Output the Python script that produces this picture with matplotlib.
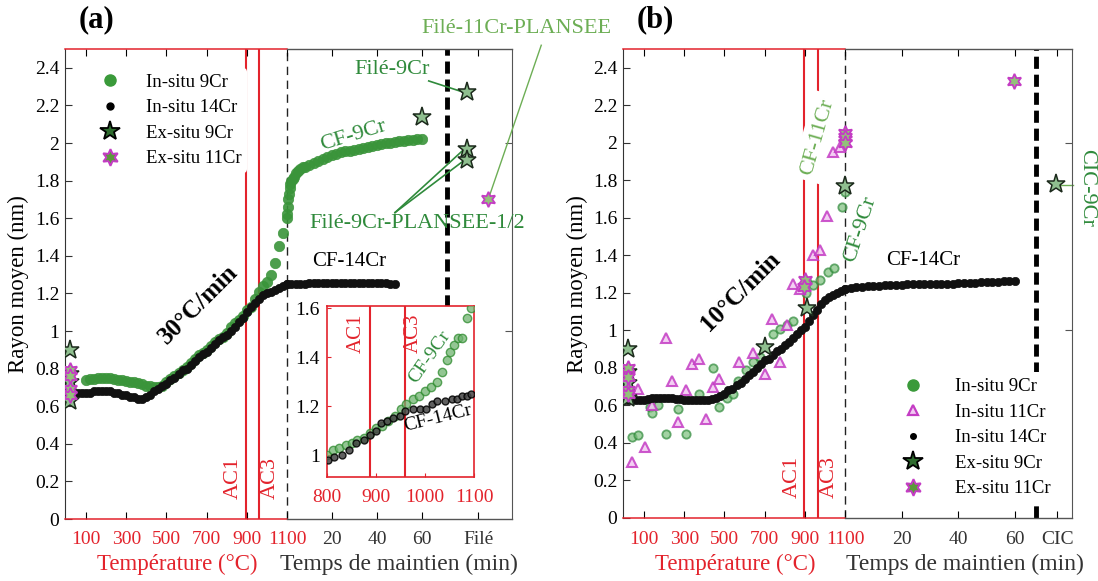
import numpy as np
import matplotlib.pyplot as plt
from matplotlib.lines import Line2D

plt.rcParams['font.family'] = ['Liberation Serif', 'DejaVu Serif']

RED = '#e3232c'
GREEN = '#2f8a3b'
LGREEN = '#6dae55'
MAG = '#c43cc4'
DARK = '#333333'

# ---------------- (a) 30 C/min ----------------
temp_14_a = np.arange(0, 1101, 20)
r14_temp_a = [0.67, 0.67, 0.67, 0.67, 0.67, 0.67, 0.67, 0.68, 0.68, 0.68,
              0.68, 0.68, 0.67, 0.67, 0.66, 0.66, 0.65, 0.65, 0.64, 0.64,
              0.65, 0.66, 0.68, 0.69, 0.71, 0.72, 0.74, 0.75, 0.77, 0.79,
              0.80, 0.82, 0.84, 0.86, 0.88, 0.89, 0.91, 0.93, 0.95, 0.97,
              0.98, 1.00, 1.02, 1.05, 1.07, 1.10, 1.13, 1.15, 1.17, 1.19,
              1.20, 1.21, 1.22, 1.23, 1.24, 1.25]
time_14_a = np.arange(0, 49, 2)
r14_time_a = [1.25, 1.25, 1.25, 1.25, 1.25, 1.255, 1.255, 1.255, 1.255, 1.255,
              1.255, 1.255, 1.255, 1.255, 1.255, 1.255, 1.255, 1.255, 1.255, 1.255,
              1.255, 1.255, 1.255, 1.25, 1.25]

temp_9_a = np.arange(100, 1101, 20)
r9_temp_a = [0.74, 0.745, 0.745, 0.75, 0.75, 0.75, 0.75, 0.745, 0.74, 0.74,
             0.735, 0.73, 0.73, 0.725, 0.72, 0.71, 0.705, 0.70, 0.70, 0.71,
             0.73, 0.745, 0.76, 0.775, 0.79, 0.81, 0.83, 0.85, 0.87, 0.885,
             0.90, 0.92, 0.94, 0.955, 0.97, 0.99, 1.02, 1.04, 1.06, 1.08,
             1.11, 1.13, 1.17, 1.21, 1.24, 1.26, 1.30, 1.36, 1.45, 1.52,
             1.60]
time_9_a = [0, 0.3, 0.6, 0.9, 1.2, 1.5, 2, 2.5, 3, 4, 5, 6, 7, 8,
            10, 12, 14, 16, 18, 20, 22, 24, 26, 28, 30, 32, 34, 36, 38, 40,
            42, 44, 46, 48, 50, 52, 54, 56, 58, 60]
r9_time_a = [1.62, 1.66, 1.70, 1.73, 1.76, 1.78, 1.80, 1.81, 1.82, 1.84,
             1.85, 1.86, 1.87, 1.875, 1.885, 1.895, 1.905, 1.915, 1.925, 1.935,
             1.94, 1.95, 1.955, 1.96, 1.965, 1.97, 1.975, 1.98, 1.985, 1.99,
             1.995, 2.0, 2.0, 2.005, 2.01, 2.01, 2.015, 2.015, 2.02, 2.02]

# ex-situ (a)
ex9_temp_a = [20, 20, 20, 20]
ex9_temp_r_a = [0.90, 0.77, 0.73, 0.63]
ex9_time_a = [60, 80, 80, 80]
ex9_time_r_a = [2.14, 2.27, 1.97, 1.91]
ex11_temp_a = [20, 20, 20, 20]
ex11_temp_r_a = [0.79, 0.76, 0.69, 0.66]
ex11_time_a = [89.5]
ex11_time_r_a = [1.70]

# inset (a)
ins_temp_9 = [800, 812, 825, 838, 850, 862, 875, 888, 900, 912, 925, 938, 950,
              962, 975, 988, 1000, 1012, 1025, 1035, 1045, 1052, 1060, 1068,
              1075, 1085, 1094]
ins_r_9 = [1.00, 1.02, 1.03, 1.04, 1.05, 1.06, 1.07, 1.09, 1.11, 1.12, 1.14,
           1.16, 1.19, 1.21, 1.23, 1.24, 1.26, 1.28, 1.30, 1.34, 1.39, 1.42,
           1.45, 1.48, 1.48, 1.56, 1.60]
ins_temp_14 = [803, 815, 830, 845, 860, 875, 888, 900, 910, 922, 935, 948, 960,
               975, 990, 1002, 1015, 1025, 1040, 1055, 1065, 1075, 1085, 1094]
ins_r_14 = [0.98, 0.99, 1.00, 1.02, 1.05, 1.06, 1.08, 1.10, 1.13, 1.14, 1.15,
            1.16, 1.18, 1.19, 1.19, 1.19, 1.21, 1.22, 1.22, 1.23, 1.23, 1.24,
            1.24, 1.25]

# ---------------- (b) 10 C/min ----------------
temp_14_b = np.arange(0, 1101, 20)
r14_temp_b = [0.63, 0.63, 0.63, 0.63, 0.63, 0.63, 0.635, 0.64, 0.64, 0.64,
              0.64, 0.64, 0.64, 0.635, 0.635, 0.63, 0.63, 0.63, 0.63, 0.63,
              0.63, 0.63, 0.635, 0.64, 0.65, 0.66, 0.68, 0.69, 0.71, 0.72,
              0.74, 0.76, 0.78, 0.80, 0.82, 0.84, 0.85, 0.87, 0.89, 0.90,
              0.92, 0.94, 0.96, 0.98, 1.00, 1.02, 1.05, 1.08, 1.11, 1.14,
              1.16, 1.18, 1.19, 1.20, 1.21, 1.22]
time_14_b = np.arange(0, 61, 2)
r14_time_b = [1.22, 1.225, 1.23, 1.23, 1.235, 1.235, 1.235, 1.24, 1.24, 1.24,
              1.24, 1.245, 1.245, 1.245, 1.245, 1.25, 1.25, 1.25, 1.25, 1.25,
              1.255, 1.255, 1.255, 1.255, 1.26, 1.26, 1.26, 1.26, 1.265, 1.265,
              1.265]

temp_9_b = [41, 71, 129, 138, 171, 207, 270, 308, 373, 441, 473, 511, 544, 569,
            607, 643, 677, 743, 776, 809, 842, 905, 909, 939, 975, 1016, 1046,
            1083, 1100]
r9_b = [0.43, 0.44, 0.59, 0.56, 0.60, 0.45, 0.58, 0.45, 0.66, 0.80, 0.59, 0.64,
        0.66, 0.73, 0.79, 0.83, 0.86, 0.98, 1.01, 1.03, 1.05, 1.20, 1.26, 1.24,
        1.27, 1.31, 1.33, 1.66, 1.74]

temp_11_b = [38, 104, 71, 138, 207, 237, 270, 308, 337, 373, 408, 441, 473,
             572, 643, 701, 738, 776, 809, 842, 876, 942, 975, 1008, 1041, 1075]
r11_b = [0.30, 0.38, 0.69, 0.60, 0.96, 0.73, 0.51, 0.68, 0.82, 0.85, 0.53,
         0.70, 0.74, 0.83, 0.88, 0.77, 1.06, 0.83, 1.03, 1.25, 1.22, 1.40,
         1.43, 1.61, 1.95, 1.98]

ex9_temp_b = [20, 20, 20, 20, 701, 909, 1100]
ex9_temp_r_b = [0.90, 0.78, 0.72, 0.64, 0.91, 1.12, 1.77]
ex9_time_b = [74.5]
ex9_time_r_b = [1.78]
ex11_temp_b = [20, 20, 20, 20, 900, 895, 1100, 1100, 1100]
ex11_temp_r_b = [0.80, 0.75, 0.68, 0.66, 1.27, 1.23, 2.05, 2.03, 2.00]
ex11_time_b = [59.5]
ex11_time_r_b = [2.33]

temp_ticks = [100, 300, 500, 700, 900, 1100]
AC1_A, AC3_A = 894, 960
AC1_B, AC3_B = 896, 965

MIN_A = 11.2   # x units per minute, panel (a)
MIN_B = 14.1   # x units per minute, panel (b)

HEX = (6, 1, 0)
star_kw = dict(ls='none', marker='*', ms=14, mfc='#8fbf8f', mec='#1c2a1c', mew=1.1, zorder=6)
hex_kw = dict(ls='none', marker=HEX, ms=11, mfc='#93c27a', mec=MAG, mew=1.3, zorder=6)
band9 = dict(ls='none', marker='o', ms=7.5, color='#3a943a', mec='#3a943a', mew=0.5, alpha=0.9, zorder=3)
band14 = dict(ls='none', marker='o', ms=6, color='#111111', mec='#111111', mew=0.5, zorder=4)

fig = plt.figure(figsize=(10.98, 5.81), dpi=100)
W, H = 1098, 581


def px_axes(l, t, r, b):
    return fig.add_axes([l / W, 1 - b / H, (r - l) / W, (b - t) / H])


def frame(ax, tscale, time_ticks, time_labels, xmax):
    tu = lambda t: 1100 + np.asarray(t, dtype=float) * tscale
    ax.set_xlim(-5, xmax)
    ax.set_ylim(0, 2.5)
    yt = np.arange(0, 2.41, 0.2)
    ax.set_yticks(yt)
    ax.set_yticklabels(['0', '0.2', '0.4', '0.6', '0.8', '1', '1.2', '1.4',
                        '1.6', '1.8', '2', '2.2', '2.4'])
    ax.set_xticks(list(temp_ticks) + list(tu(time_ticks)))
    ax.set_xticklabels([str(v) for v in temp_ticks] + time_labels)
    cols = [RED] * len(temp_ticks) + [DARK] * len(time_ticks)
    ax.tick_params(axis='x', direction='in', top=True, length=5, pad=9, labelsize=14)
    ax.tick_params(axis='y', direction='in', length=5, pad=4, labelsize=14, color=DARK)
    for lbl, c in zip(ax.get_xticklabels(), cols):
        lbl.set_color(c)
    for tk, c in zip(ax.xaxis.get_major_ticks(), cols):
        tk.tick1line.set_color(c)
        tk.tick2line.set_color(c)
    for s in ['top', 'bottom']:
        ax.spines[s].set_visible(False)
    tr = ax.get_xaxis_transform()
    for yy in (0, 1):
        ax.plot([-5, 1100], [yy, yy], color=RED, lw=1.1, transform=tr, clip_on=False, zorder=7)
        ax.plot([1100, xmax], [yy, yy], color='#555555', lw=1.0, transform=tr, clip_on=False, zorder=7)
    ax.spines['left'].set_color(DARK)
    ax.spines['right'].set_color('#555555')
    sec = ax.secondary_yaxis('right')
    sec.set_yticks([1, 2])
    sec.set_yticklabels(['', ''])
    sec.tick_params(direction='in', length=5, color='#555555')
    sec.spines['right'].set_visible(False)
    return tu


# ================= panel (a) =================
ax = px_axes(65, 49, 512, 519)
tu = frame(ax, MIN_A, [20, 40, 60, 85], ['20', '40', '60', 'Filé'], 2220)

ax.axvline(AC1_A, color=RED, lw=1.5, zorder=1)
ax.axvline(AC3_A, color=RED, lw=1.5, zorder=1)
ax.axvline(1100, color='#222222', lw=1.0, ls=(0, (6, 4)), zorder=1)
ax.axvline(tu(71), ymin=1.13 / 2.5, color='black', lw=3.5, ls=(0, (2.5, 1.2)), zorder=1)

ax.plot(temp_9_a, r9_temp_a, **band9)
ax.plot(tu(time_9_a), r9_time_a, **band9)
ax.plot(temp_14_a, r14_temp_a, **band14)
ax.plot(tu(time_14_a), r14_time_a, **band14)

ax.plot(ex9_temp_a, ex9_temp_r_a, **star_kw)
ax.plot(tu(ex9_time_a), ex9_time_r_a, **star_kw)
ax.plot(ex11_temp_a, ex11_temp_r_a, **hex_kw)
ax.plot(tu(ex11_time_a), ex11_time_r_a, **hex_kw)

ax.text(AC1_A - 12, 0.22, 'AC1', color=RED, fontsize=16, rotation=90, ha='right', va='center')
ax.text(AC3_A + 12, 0.22, 'AC3', color=RED, fontsize=16, rotation=90, ha='left', va='center')
ax.text(657, 1.14, '30°C/min', fontsize=18, fontweight='bold', rotation=45, ha='center', va='center')
ax.text(tu(29.3), 2.04, 'CF-9Cr', color=GREEN, fontsize=16, rotation=17, ha='center', va='center')
ax.text(tu(27.5), 1.37, 'CF-14Cr', color='black', fontsize=15, ha='center', va='center')
ax.text(tu(46.7), 2.39, 'Filé-9Cr', color=GREEN, fontsize=16, ha='center', va='center')
ax.plot([tu(63), tu(78.5)], [2.33, 2.27], color=GREEN, lw=1.2, zorder=5)
ax.text(tu(57.8), 1.57, 'Filé-9Cr-PLANSEE-1/2', color=GREEN, fontsize=16, ha='center', va='center')
ax.plot([tu(48), tu(79)], [1.63, 1.97], color=GREEN, lw=1.2, zorder=5)
ax.plot([tu(48), tu(79)], [1.63, 1.91], color=GREEN, lw=1.2, zorder=5)
ax.text(tu(101.8), 2.61, 'Filé-11Cr-PLANSEE', color=LGREEN, fontsize=16, ha='center', va='center', clip_on=False)
ax.plot([tu(113), tu(90)], [2.52, 1.72], color=LGREEN, lw=1.0, clip_on=False, zorder=5)

handles_a = [
    Line2D([], [], ls='none', marker='o', ms=8, color='#3a9a3a'),
    Line2D([], [], ls='none', marker='o', ms=5, color='black'),
    Line2D([], [], ls='none', marker='*', ms=15, mfc='#2e6b2e', mec='black', mew=1.3),
    Line2D([], [], ls='none', marker=HEX, ms=12, mfc='#5a9a3a', mec=MAG, mew=1.4),
]
leg = ax.legend(handles_a, ['In-situ 9Cr', 'In-situ 14Cr', 'Ex-situ 9Cr', 'Ex-situ 11Cr'],
                loc='upper left', bbox_to_anchor=(0.025, 0.98), frameon=True, fontsize=13.5,
                handletextpad=0.9, labelspacing=0.45, borderpad=0.3)
leg.get_frame().set_edgecolor('none')
leg.get_frame().set_alpha(1)

# inset
ai = px_axes(327, 306, 474, 477)
ai.set_xlim(800, 1100)
ai.set_ylim(0.91, 1.61)
ai.axvline(888, color=RED, lw=1.5)
ai.axvline(959, color=RED, lw=1.5)
ai.plot(ins_temp_9, ins_r_9, 'o', ms=6, mfc='#6fb36f', mec='#2d8a2d', alpha=0.75, zorder=3)
ai.plot(ins_temp_14, ins_r_14, 'o', ms=5, mfc='#444444', mec='black', alpha=0.85, zorder=4)
ai.set_xticks([800, 900, 1000, 1100])
ai.set_yticks([1, 1.2, 1.4, 1.6])
ai.set_yticklabels(['1', '1.2', '1.4', '1.6'])
ai.tick_params(direction='in', length=3, labelsize=14, color=RED)
ai.tick_params(axis='x', pad=9, labelcolor=RED)
ai.tick_params(axis='y', pad=5)
for s in ai.spines.values():
    s.set_color(RED)
    s.set_linewidth(1.2)
ai.text(860, 1.5, 'AC1', color=RED, fontsize=15, rotation=90, ha='center', va='center')
ai.text(976, 1.5, 'AC3', color=RED, fontsize=15, rotation=90, ha='center', va='center')
ai.text(1010, 1.40, 'CF-9Cr', color=GREEN, fontsize=14, rotation=55, ha='center', va='center')
ai.text(1027, 1.15, 'CF-14Cr', color='black', fontsize=14, rotation=14, ha='center', va='center')

# ================= panel (b) =================
bx = px_axes(623, 49, 1072, 518)
tv = frame(bx, MIN_B, [20, 40, 60, 75], ['20', '40', '60', 'CIC'], 2230)

bx.axvline(AC1_B, color=RED, lw=1.5, zorder=1)
bx.axvline(AC3_B, color=RED, lw=1.5, zorder=1)
bx.axvline(1100, color='#222222', lw=1.0, ls=(0, (6, 4)), zorder=1)
bx.axvline(tv(67.5), color='black', lw=3.5, ls=(0, (2.5, 1.2)), zorder=1)

bx.plot(temp_9_b, r9_b, 'o', ms=6, mfc='#7cbf7c', mec='#2f8a3b', mew=1.3, alpha=0.7, zorder=3)
bx.plot(temp_11_b, r11_b, '^', ms=7, mfc='#f2c8f2', mec=MAG, mew=1.5, alpha=0.85, zorder=3)
bx.plot(temp_14_b, r14_temp_b, **band14)
bx.plot(tv(time_14_b), r14_time_b, **band14)

bx.plot(ex9_temp_b, ex9_temp_r_b, **star_kw)
bx.plot(tv(ex9_time_b), ex9_time_r_b, **star_kw)
bx.plot(ex11_temp_b, ex11_temp_r_b, **hex_kw)
bx.plot(tv(ex11_time_b), ex11_time_r_b, **hex_kw)

bx.text(AC1_B - 12, 0.22, 'AC1', color=RED, fontsize=16, rotation=90, ha='right', va='center')
bx.text(AC3_B + 12, 0.22, 'AC3', color=RED, fontsize=16, rotation=90, ha='left', va='center')
bx.text(577, 1.21, '10°C/min', fontsize=18, fontweight='bold', rotation=45, ha='center', va='center')
bx.text(962, 2.03, 'CF-11Cr', color=LGREEN, fontsize=16, rotation=74, ha='center', va='center',
        bbox=dict(fc='white', ec='none', pad=4), zorder=2)
bx.text(tv(5.5), 1.54, 'CF-9Cr', color=GREEN, fontsize=16, rotation=72, ha='center', va='center', zorder=2)
bx.text(tv(27.7), 1.37, 'CF-14Cr', color='black', fontsize=15, ha='center', va='center')
bx.text(tv(85.3), 1.76, 'CIC-9Cr', color=GREEN, fontsize=16, rotation=-90, ha='center', va='center', clip_on=False)
bx.plot([tv(75.5), tv(80.5)], [1.775, 1.775], color=LGREEN, lw=1.0, clip_on=False)

handles_b = [
    Line2D([], [], ls='none', marker='o', ms=8, color='#3a9a3a'),
    Line2D([], [], ls='none', marker='^', ms=7, mfc='#f2c8f2', mec=MAG, mew=1.6),
    Line2D([], [], ls='none', marker='o', ms=4, color='black'),
    Line2D([], [], ls='none', marker='*', ms=15, mfc='#2e6b2e', mec='black', mew=1.3),
    Line2D([], [], ls='none', marker=HEX, ms=12, mfc='#5a9a3a', mec=MAG, mew=1.4),
]
leg = bx.legend(handles_b, ['In-situ 9Cr', 'In-situ 11Cr', 'In-situ 14Cr', 'Ex-situ 9Cr', 'Ex-situ 11Cr'],
                loc='lower right', bbox_to_anchor=(0.985, 0.012), frameon=True, fontsize=13.5,
                handletextpad=1.2, labelspacing=0.45, borderpad=0.3)
leg.get_frame().set_edgecolor('none')
leg.get_frame().set_alpha(1)

# axis labels as separate coloured texts
for x0 in (177, 735):
    fig.text(x0 / W, 1 - 564 / H, 'Température (°C)', color=RED, fontsize=16.5, ha='center', va='center')
for x0 in (399, 965):
    fig.text(x0 / W, 1 - 564 / H, 'Temps de maintien (min)', color=DARK, fontsize=17, ha='center', va='center')
for x0 in (18, 577):
    fig.text(x0 / W, 1 - 284 / H, 'Rayon moyen (nm)', color='black', fontsize=16.5, rotation=90,
             ha='center', va='center')
fig.text(96 / W, 1 - 20 / H, '(a)', fontsize=22, fontweight='bold', ha='center', va='center')
fig.text(655 / W, 1 - 20 / H, '(b)', fontsize=22, fontweight='bold', ha='center', va='center')

fig.savefig('out.png', dpi=100)
